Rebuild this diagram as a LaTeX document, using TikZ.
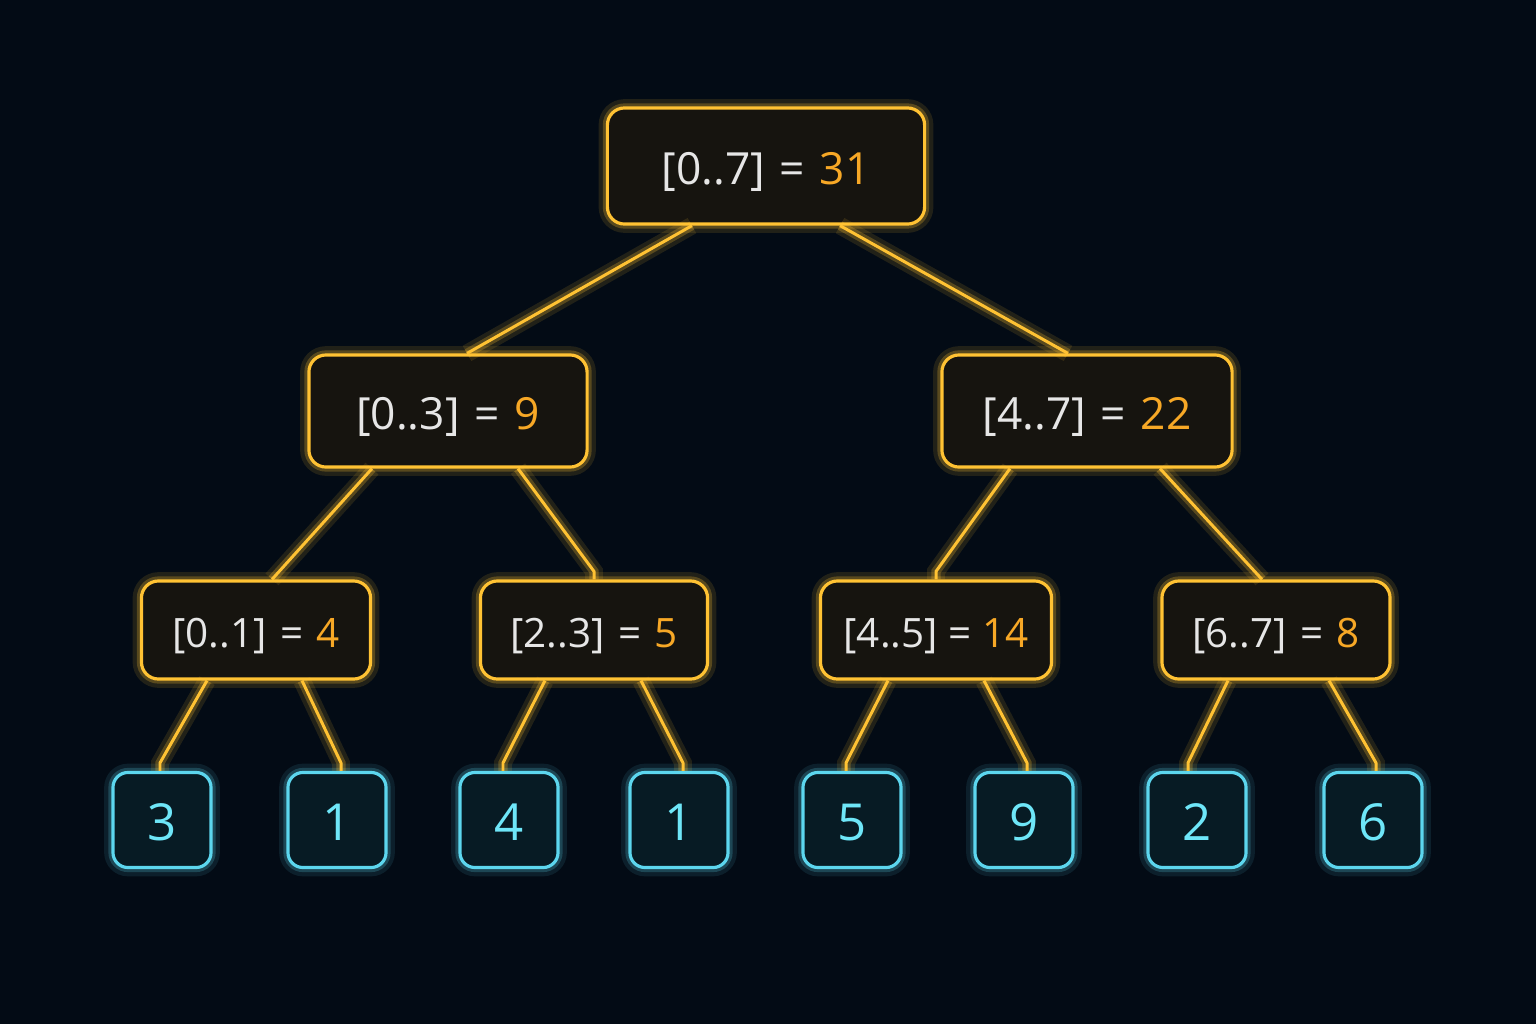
\documentclass[tikz,border=0pt]{standalone}
\usepackage{fontspec}
\setmainfont{Open Sans}
\definecolor{bg}{HTML}{030B15}
\definecolor{gold}{HTML}{FFC233}
\definecolor{valc}{HTML}{F7A826}
\definecolor{labc}{HTML}{E6E6E6}
\definecolor{ifill}{HTML}{16140F}
\definecolor{lfill}{HTML}{071B24}
\definecolor{cyanb}{HTML}{5CD6EE}
\definecolor{cyant}{HTML}{6EE6F8}
\tikzset{
  glowg/.style={preaction={draw=gold,line width=5pt,opacity=0.12},preaction={draw=gold,line width=2.6pt,opacity=0.25}},
  glowc/.style={preaction={draw=cyanb,line width=5pt,opacity=0.10},preaction={draw=cyanb,line width=2.6pt,opacity=0.22}},
  inode/.style={draw=gold,line width=0.9pt,fill=ifill,rounded corners=0.17cm,glowg,text=labc,inner sep=0pt,align=center,text depth=0pt},
  leaf/.style={draw=cyanb,line width=0.9pt,fill=lfill,rounded corners=0.15cm,glowc,text=cyant,inner sep=0pt,minimum width=0.98cm,minimum height=0.95cm,font=\fontsize{14.5}{16}\selectfont,text height=11.4pt,text depth=0pt},
  big/.style={font=\fontsize{12.6}{15}\selectfont,text height=10.6pt},
  mid/.style={font=\fontsize{11.5}{14}\selectfont,text height=9.8pt},
  edge/.style={draw=gold,line width=0.85pt,glowg,line join=round},
}
\newcommand{\val}[1]{\textcolor{valc}{#1}}
\begin{document}
\begin{tikzpicture}[x=0.01cm,y=-0.01cm]
\fill[bg] (0,0) rectangle (1536,1024);
\useasboundingbox (0,0) rectangle (1536,1024);
% nodes
\node[inode,big,minimum width=3.17cm,minimum height=1.16cm] (r) at (766,166) {[0..7]\,\,=\,\,\val{31}};
\node[inode,big,minimum width=2.78cm,minimum height=1.12cm] (a) at (448,411) {[0..3]\,\,=\,\,\val{9}};
\node[inode,big,minimum width=2.90cm,minimum height=1.12cm] (b) at (1087,411) {[4..7]\,\,=\,\,\val{22}};
\node[inode,mid,minimum width=2.29cm,minimum height=0.98cm] (c) at (256,630) {[0..1]\,\,=\,\,\val{4}};
\node[inode,mid,minimum width=2.27cm,minimum height=0.98cm] (d) at (594,630) {[2..3]\,\,=\,\,\val{5}};
\node[inode,mid,minimum width=2.31cm,minimum height=0.98cm] (e) at (936,630) {[4..5] = \val{14}};
\node[inode,mid,minimum width=2.28cm,minimum height=0.98cm] (f) at (1276,630) {[6..7]\,\,=\,\,\val{8}};
\node[leaf] (l1) at (162,820) {3};
\node[leaf] (l2) at (337,820) {1};
\node[leaf] (l3) at (509,820) {4};
\node[leaf] (l4) at (679,820) {1};
\node[leaf] (l5) at (852,820) {5};
\node[leaf] (l6) at (1024,820) {9};
\node[leaf] (l7) at (1197,820) {2};
\node[leaf] (l8) at (1373,820) {6};
% edges
\draw[edge] ([xshift=-0.74cm]r.south) -- ([xshift=0.19cm]a.north);
\draw[edge] ([xshift=0.74cm]r.south) -- ([xshift=-0.19cm]b.north);
\draw[edge] ([xshift=-0.76cm]a.south) -- ([xshift=0.16cm]c.north);
\draw[edge] ([xshift=0.70cm]a.south) -- ([yshift=0.08cm]d.north) -- (d.north);
\draw[edge] ([xshift=-0.77cm]b.south) -- ([yshift=0.08cm]e.north) -- (e.north);
\draw[edge] ([xshift=0.73cm]b.south) -- ([xshift=-0.14cm]f.north);
\draw[edge] ([xshift=-0.49cm]c.south) -- ([xshift=-0.02cm,yshift=0.08cm]l1.north) -- ([xshift=-0.02cm]l1.north);
\draw[edge] ([xshift=0.46cm]c.south) -- ([xshift=0.04cm,yshift=0.08cm]l2.north) -- ([xshift=0.04cm]l2.north);
\draw[edge] ([xshift=-0.49cm]d.south) -- ([xshift=-0.06cm,yshift=0.08cm]l3.north) -- ([xshift=-0.06cm]l3.north);
\draw[edge] ([xshift=0.47cm]d.south) -- ([xshift=0.04cm,yshift=0.08cm]l4.north) -- ([xshift=0.04cm]l4.north);
\draw[edge] ([xshift=-0.48cm]e.south) -- ([xshift=-0.06cm,yshift=0.08cm]l5.north) -- ([xshift=-0.06cm]l5.north);
\draw[edge] ([xshift=0.48cm]e.south) -- ([xshift=0.03cm,yshift=0.08cm]l6.north) -- ([xshift=0.03cm]l6.north);
\draw[edge] ([xshift=-0.48cm]f.south) -- ([xshift=-0.09cm,yshift=0.08cm]l7.north) -- ([xshift=-0.09cm]l7.north);
\draw[edge] ([xshift=0.53cm]f.south) -- ([xshift=0.03cm,yshift=0.08cm]l8.north) -- ([xshift=0.03cm]l8.north);
\end{tikzpicture}
\end{document}
